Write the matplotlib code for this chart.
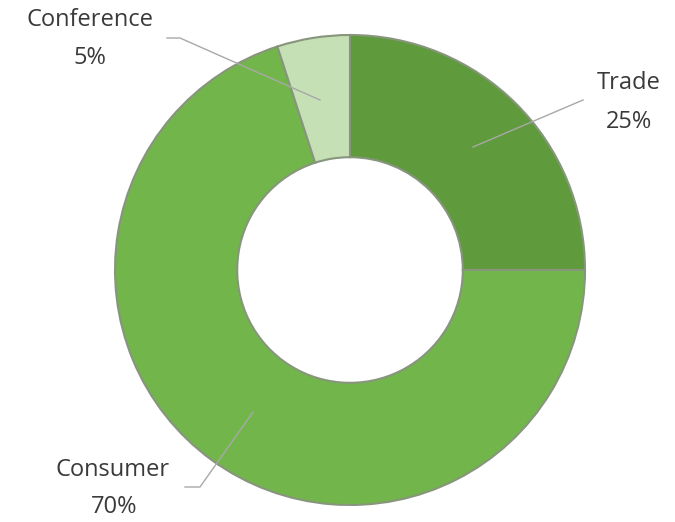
import matplotlib
matplotlib.use("Agg")
import matplotlib.pyplot as plt

# Segment data (clockwise from 12 o'clock)
categories = ["Trade", "Consumer", "Conference"]
shares = [25, 70, 5]
colors = ["#5f9a3c", "#72b64b", "#c6e0b5"]

W, H = 675, 522
fig = plt.figure(figsize=(W / 100, H / 100), dpi=100)
ax = fig.add_axes([0, 0, 1, 1])

cx, cy, R = 350, H - 270, 235
wedges, _ = ax.pie(
    shares,
    colors=colors,
    startangle=90,
    counterclock=False,
    center=(cx, cy),
    radius=R,
    wedgeprops=dict(width=R * 0.52, edgecolor="#87957d", linewidth=1.5),
)
ax.set_xlim(0, W)
ax.set_ylim(0, H)
ax.set_aspect("equal")
ax.axis("off")

label_font = dict(family=["Open Sans", "DejaVu Sans"], size=17, color="#3a3a3a",
                  ha="center", va="center")

# name-line centre, percent-line centre and leader line path, in pixel coordinates
labels = {
    "Trade": ((629, 83), (629, 122), [(583, 100), (473, 147)]),
    "Consumer": ((113, 470), (114, 507), [(185, 487), (200, 487), (253, 412)]),
    "Conference": ((90, 20), (90, 58), [(167, 38), (180, 38), (320, 100)]),
}
for name, share in zip(categories, shares):
    (nx, ny), (px, py), path = labels[name]
    ax.text(nx, H - ny, name, **label_font)
    ax.text(px, H - py, f"{share}%", **label_font)
    xs = [p[0] for p in path]
    ys = [H - p[1] for p in path]
    ax.plot(xs, ys, color="#a8a8a8", linewidth=1.0)

fig.savefig("out.png", dpi=100, facecolor="white")
